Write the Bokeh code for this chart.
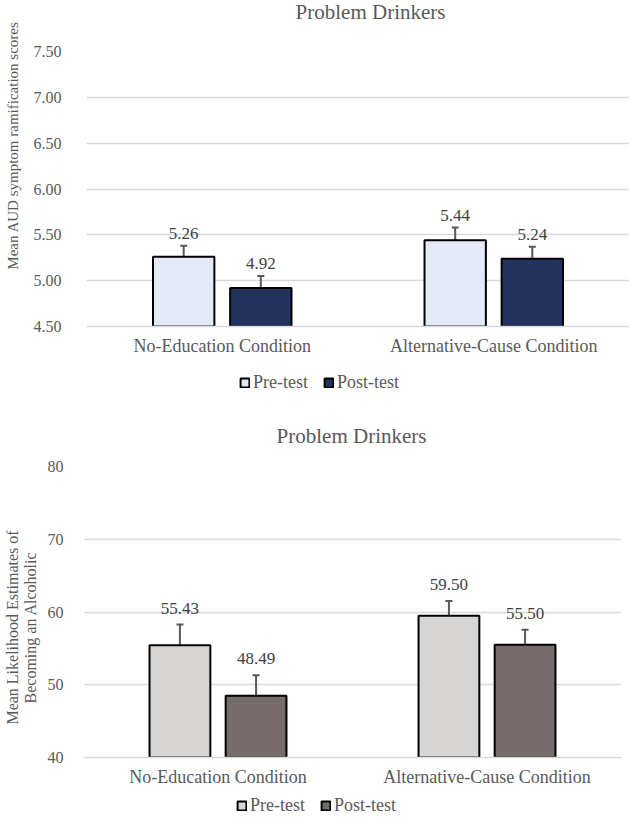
from bokeh.plotting import figure
from bokeh.models import (Range1d, FixedTicker, NumeralTickFormatter, ColumnDataSource,
                          Whisker, TeeHead, Legend, LegendItem, Label)
from bokeh.layouts import column, row
from bokeh.embed import file_html
from bokeh.resources import INLINE
from bokeh.core.properties import value

# ---------------- data ----------------
chart_title = "Problem Drinkers"
conditions = ["No-Education Condition", "Alternative-Cause Condition"]
series = ["Pre-test", "Post-test"]

aud_label = "Mean AUD symptom ramification scores"
aud_pre = [5.26, 5.44]
aud_post = [4.92, 5.24]
aud_pre_err = [0.12, 0.14]
aud_post_err = [0.13, 0.13]
aud_ticks = [4.5, 5.0, 5.5, 6.0, 6.5, 7.0, 7.5]

lik_label = ["Mean Likelihood Estimates of", "Becoming an Alcoholic"]
lik_pre = [55.43, 59.50]
lik_post = [48.49, 55.50]
lik_pre_err = [2.85, 2.0]
lik_post_err = [2.8, 2.05]
lik_ticks = [40, 50, 60, 70, 80]

FONT = "Liberation Serif"
GRID = "#D9D9D9"
TXT = "#595959"
AUD_COLORS = ["#E3E9F7", "#22335E"]
LIK_COLORS = ["#D6D5D4", "#766C6B"]


def blank(width, height):
    f = figure(width=width, height=height, output_backend="svg", toolbar_location=None,
               x_range=Range1d(0, 1), y_range=Range1d(0, 1), x_axis_type=None,
               y_axis_type=None, min_border=0)
    f.outline_line_color = None
    return f


def header(width, height, x, y):
    h = blank(width, height)
    h.add_layout(Label(x=x, y=y, x_units="screen", y_units="screen", text=chart_title,
                       text_align="center", text_baseline="middle", text_font=FONT,
                       text_font_size="21px", text_color=TXT))
    return h


def legend_fig(height, sources, colors, loc):
    f = blank(629, height)
    rs = [f.vbar(x="x", top="top", width=0.1, source=s, fill_color=c, line_color="black",
                 line_width=2, visible=False)
          for s, c in zip(sources, colors)]
    f.add_layout(Legend(items=[LegendItem(label=s, renderers=[r]) for s, r in zip(series, rs)],
                        orientation="horizontal", location=loc,
                        label_text_font=FONT, label_text_font_size="18px",
                        label_text_color=TXT, glyph_width=11, glyph_height=11,
                        label_standoff=3, spacing=15, padding=0, margin=0,
                        border_line_color=None, background_fill_alpha=0))
    return f


def chart(pre, post, pre_err, post_err, ticks, fmt, colors, width, height, borders,
          bar_w, dodge, tick_standoff, label_gap):
    left, top, bottom, right = borders
    p = figure(width=width, height=height, output_backend="svg", toolbar_location=None,
               x_range=Range1d(-0.5, 1.5), y_range=Range1d(ticks[0], ticks[-1]),
               min_border_left=left, min_border_top=top, min_border_bottom=bottom,
               min_border_right=right)
    p.outline_line_color = None

    idx = list(range(len(conditions)))
    sources = []
    for vals, errs, off, col in ((pre, pre_err, -dodge, colors[0]),
                                 (post, post_err, dodge, colors[1])):
        src = ColumnDataSource(dict(x=[i + off for i in idx], top=vals,
                                    upper=[v + e for v, e in zip(vals, errs)],
                                    lab=[f"{v:.2f}" for v in vals]))
        sources.append(src)
        p.vbar(x="x", top="top", bottom=ticks[0], width=bar_w, source=src,
               fill_color=col, line_color="black", line_width=2)
        p.add_layout(Whisker(source=src, base="x", lower="top", upper="upper",
                             dimension="height", line_color=TXT, line_width=2,
                             lower_head=TeeHead(size=0, line_alpha=0),
                             upper_head=TeeHead(size=7, line_color=TXT, line_width=2)))
        p.text(x="x", y="upper", text="lab", source=src, text_align="center",
               text_baseline="bottom", y_offset=-label_gap, text_font=value(FONT),
               text_font_size="17px", text_color="#404040")

    p.xgrid.grid_line_color = None
    p.ygrid.grid_line_color = GRID
    p.ygrid.grid_line_width = 1.5

    p.xaxis.ticker = FixedTicker(ticks=idx)
    p.xaxis.major_label_overrides = {i: c for i, c in zip(idx, conditions)}
    p.xaxis.axis_line_color = GRID
    p.xaxis.axis_line_width = 1.5
    p.xaxis.major_tick_line_color = None
    p.xaxis.minor_tick_line_color = None
    p.xaxis.major_label_standoff = 3
    p.xaxis.major_label_text_font = FONT
    p.xaxis.major_label_text_font_size = "18px"
    p.xaxis.major_label_text_color = TXT

    p.yaxis.ticker = FixedTicker(ticks=ticks)
    p.yaxis.formatter = NumeralTickFormatter(format=fmt)
    p.yaxis.axis_line_color = None
    p.yaxis.major_tick_line_color = None
    p.yaxis.minor_tick_line_color = None
    p.yaxis.major_label_standoff = tick_standoff
    p.yaxis.major_label_text_font = FONT
    p.yaxis.major_label_text_font_size = "16px"
    p.yaxis.major_label_text_color = TXT
    return p, sources


# ---------------- top chart ----------------
hdr1 = header(599, 30, 284, 19)
p1, src1 = chart(aud_pre, aud_post, aud_pre_err, aud_post_err, aud_ticks, "0.00",
                 AUD_COLORS, 599, 330, (51, 21, 34, 0), 0.226, 0.142, 19, 7)
yl1 = blank(30, 360)
yl1.add_layout(Label(x=12, y=215, x_units="screen", y_units="screen", text=aud_label,
                     angle=90, angle_units="deg", text_align="center",
                     text_baseline="middle", text_font=FONT, text_font_size="15px",
                     text_color=TXT))
leg1 = legend_fig(45, src1, AUD_COLORS, (239, 12))

# ---------------- bottom chart ----------------
hdr2 = header(585, 45, 268, 15)
p2, src2 = chart(lik_pre, lik_post, lik_pre_err, lik_post_err, lik_ticks, "0",
                 LIK_COLORS, 585, 339, (34, 16, 32, 8), 0.226, 0.1415, 14, 11)
yl2 = blank(44, 384)
for k, line in enumerate(lik_label):
    yl2.add_layout(Label(x=12 + 18 * k, y=162, x_units="screen", y_units="screen",
                         text=line, angle=90, angle_units="deg", text_align="center",
                         text_baseline="middle", text_font=FONT, text_font_size="16px",
                         text_color=TXT))
leg2 = legend_fig(28, src2, LIK_COLORS, (236, 1))

top_block = row(yl1, column(hdr1, p1, spacing=0), spacing=0)
bottom_block = row(yl2, column(hdr2, p2, spacing=0), spacing=0)
layout = column(top_block, leg1, bottom_block, leg2, spacing=0)
open("out.html", "w").write(file_html(layout, INLINE))
